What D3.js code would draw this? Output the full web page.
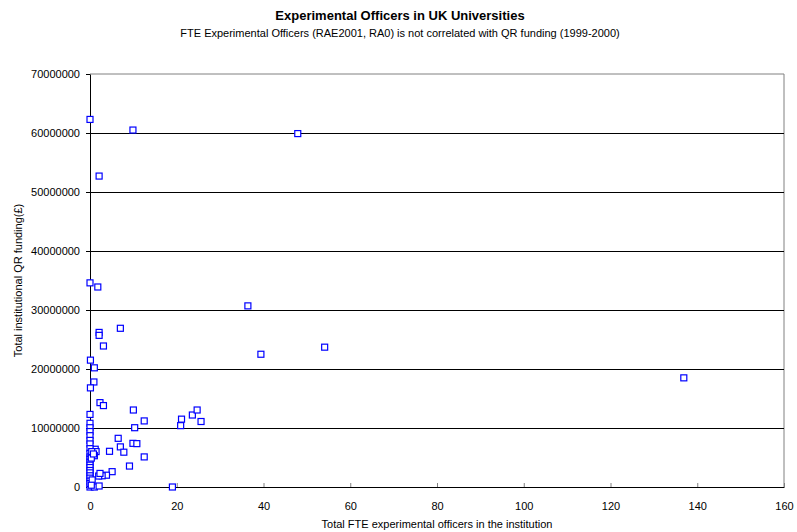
<!DOCTYPE html>
<html>
<head>
<meta charset="utf-8">
<script src="https://cdn.jsdelivr.net/npm/d3@7"></script>
<style>
  body { margin: 0; background: #fff; }
  text { font-family: "Liberation Sans", Arial, sans-serif; fill: #000; }
</style>
</head>
<body>
<script>
// FTE experimental officers per institution (x) and QR funding in pounds (y)
var fte = [
  0, 9.9, 47.9, 2.1, 0, 1.8, 36.4, 7.0, 2.1, 2.1,
  3.1, 39.4, 54.1, 136.9, 0.1, 1.0, 0.9, 0.1, 2.3, 3.1,
  10.0, 0, 12.5, 21.1, 20.9, 23.6, 24.7, 25.6, 0, 0,
  0, 0, 10.3, 6.5, 7.0, 7.8, 9.9, 10.8, 4.5, 12.5,
  9.1, 1.2, 1.4, 1.0, 5.1, 3.8, 2.8, 2.0, 2.3, 0,
  1.0, 2.1, 19.0, 0, 0, 0, 0, 0, 0, 0,
  0, 0, 0, 0, 0, 0, 0, 0, 0.4, 0.3,
  0.5, 0.3, 0.8
];
var funding = [
  62300000, 60500000, 59900000, 52700000, 34600000, 33900000, 30700000, 26900000, 26200000, 25700000,
  23900000, 22500000, 23700000, 18500000, 21500000, 20200000, 17800000, 16800000, 14300000, 13800000,
  13050000, 12300000, 11200000, 11500000, 10400000, 12200000, 13050000, 11100000, 10800000, 10050000,
  9400000, 8700000, 10050000, 8250000, 6800000, 5900000, 7400000, 7350000, 6050000, 5100000,
  3550000, 6400000, 6000000, 5300000, 2600000, 2000000, 1900000, 1860000, 2300000, 0,
  0, 170000, 0, 7900000, 7300000, 6500000, 5700000, 5100000, 4700000, 4200000,
  3700000, 3300000, 2800000, 2400000, 1900000, 1500000, 1000000, 600000, 6000000, 4900000,
  1200000, 300000, 5600000
];
var xTicks = [0, 20, 40, 60, 80, 100, 120, 140, 160];
var yTicks = [0, 10000000, 20000000, 30000000, 40000000, 50000000, 60000000, 70000000];

var margin = {top: 74, right: 13, bottom: 45, left: 90},
    width = 797 - margin.left - margin.right,
    height = 532 - margin.top - margin.bottom;

var svg = d3.select("body").append("svg")
    .attr("width", 797)
    .attr("height", 532);

// titles
svg.append("text")
    .attr("x", 400).attr("y", 20)
    .style("text-anchor", "middle")
    .style("font-size", "13px")
    .style("font-weight", "bold")
    .text("Experimental Officers in UK Universities");
svg.append("text")
    .attr("x", 400).attr("y", 37)
    .style("text-anchor", "middle")
    .style("font-size", "11px")
    .text("FTE Experimental Officers (RAE2001, RA0) is not correlated with QR funding (1999-2000)");

var g = svg.append("g")
    .attr("transform", "translate(" + margin.left + "," + margin.top + ")");

var xScale = d3.scaleLinear().domain([0, 160]).range([0, width]);
var yScale = d3.scaleLinear().domain([0, 70000000]).range([height, 0]);

// plot frame (top/right) in grey
g.append("path")
    .attr("d", "M0,0H" + width + "V" + height)
    .attr("fill", "none")
    .attr("stroke", "#808080")
    .attr("stroke-width", 1);

// horizontal gridlines
g.selectAll("line.grid")
    .data(yTicks.slice(1, -1))
    .enter().append("line").attr("class", "grid")
    .attr("x1", 0).attr("x2", width)
    .attr("y1", function(d) { return Math.round(yScale(d)) + 0.5; })
    .attr("y2", function(d) { return Math.round(yScale(d)) + 0.5; })
    .attr("stroke", "#000")
    .attr("stroke-width", 1);

// x axis (ticks point up into the plot)
var xAxis = d3.axisBottom(xScale).tickValues(xTicks).tickSizeInner(-4).tickSizeOuter(0).tickPadding(15);
var gx = g.append("g")
    .attr("transform", "translate(0," + height + ")")
    .call(xAxis);
gx.select(".domain").attr("stroke", "#000");
gx.selectAll(".tick line").attr("stroke", "#808080");
gx.selectAll(".tick text").style("font-size", "11px").attr("fill", "#000");

// y axis
var yAxis = d3.axisLeft(yScale).tickValues(yTicks).tickSizeInner(4).tickSizeOuter(0)
    .tickPadding(6).tickFormat(d3.format("d"));
var gy = g.append("g").call(yAxis);
gy.select(".domain").attr("stroke", "#000");
gy.selectAll(".tick line").attr("stroke", "#000");
gy.selectAll(".tick text").style("font-size", "11px").attr("fill", "#000");

// axis titles
svg.append("text")
    .attr("x", margin.left + width / 2).attr("y", 528)
    .style("text-anchor", "middle")
    .style("font-size", "11px")
    .text("Total FTE experimental officers in the institution");
svg.append("text")
    .attr("transform", "translate(22," + (margin.top + height / 2) + ") rotate(-90)")
    .style("text-anchor", "middle")
    .style("font-size", "11px")
    .text("Total institutional QR funding(\u00a3)");

// points: square markers
var pts = d3.range(fte.length);
g.selectAll("rect.point")
    .data(pts)
    .enter().append("rect").attr("class", "point")
    .attr("x", function(i) { return xScale(fte[i]) - 3; })
    .attr("y", function(i) { return yScale(funding[i]) - 3; })
    .attr("width", 6)
    .attr("height", 6)
    .attr("fill", "#fff")
    .attr("stroke", "#0000ff")
    .attr("stroke-width", 1.2);
</script>
</body>
</html>
